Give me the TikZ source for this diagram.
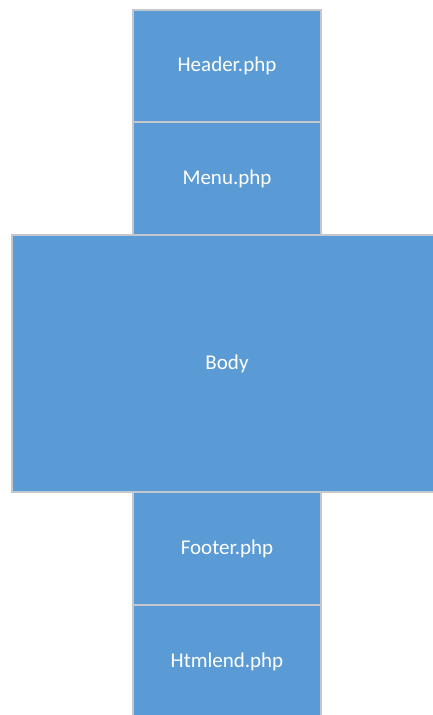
\documentclass[tikz,border=0pt]{standalone}
\usepackage{fontspec}
\setmainfont{Carlito}
\usetikzlibrary{positioning}
\definecolor{Azul}{HTML}{5B9BD5}
\definecolor{Borde}{HTML}{C3C8CE}

\begin{document}
\begin{tikzpicture}[x=1pt,y=1pt,node distance=0pt,
    parte/.style={draw=Borde,line width=1.2pt,fill=Azul,text=white,
      font=\fontsize{21}{24}\selectfont,inner sep=0pt,outer sep=0pt,
      minimum width=188pt,minimum height=113pt}]
  \useasboundingbox (0,0) rectangle (432,715);
  % columna de partes
  \node[parte,minimum height=112pt] (header) at (227,649) {Header.php};
  \node[parte,below=of header] (menu) {Menu.php};
  \node[parte,below=of menu,minimum width=430pt,minimum height=257pt] (body) {Body};
  \node[parte,below=of body] (footer) {Footer.php};
  \node[parte,below=of footer] (htmlend) {Htmlend.php};
\end{tikzpicture}
\end{document}
